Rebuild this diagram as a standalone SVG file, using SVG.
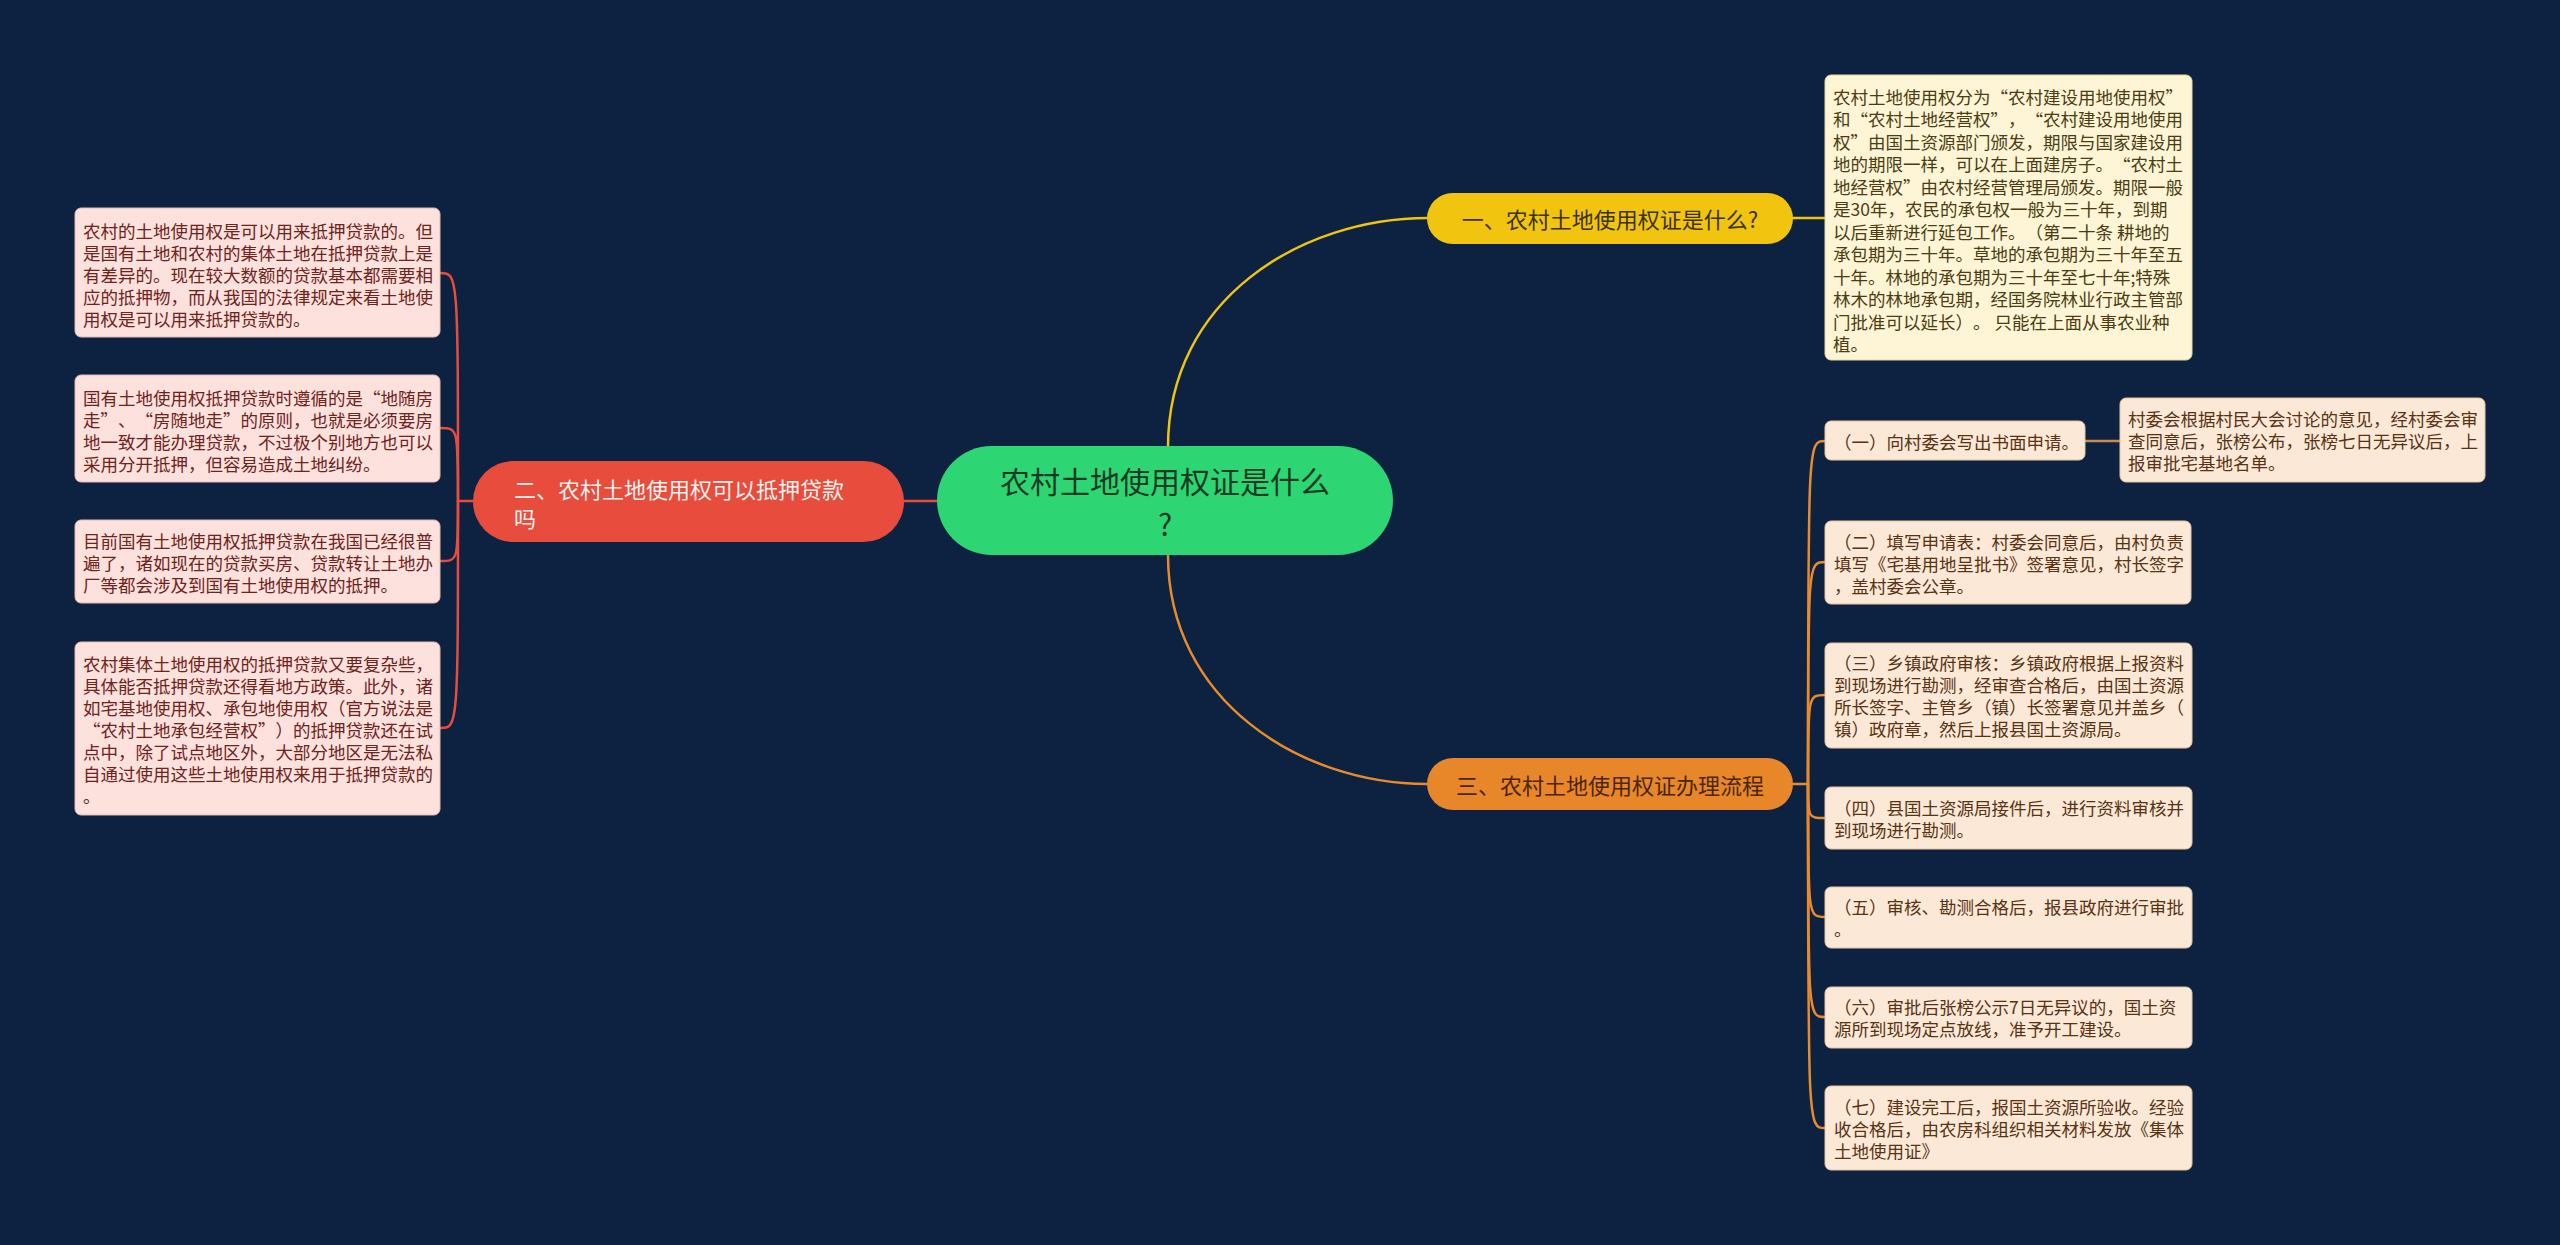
<svg xmlns="http://www.w3.org/2000/svg" width="2560" height="1245" viewBox="0 0 2560 1245">
<style>
text{font-family:"Noto Sans CJK SC","Noto Sans",sans-serif;dominant-baseline:central;text-spacing-trim:space-all}
.q{font-feature-settings:"fwid" 1}
.leaf{font-size:17.5px}
.lp rect{fill:#fce1dd;stroke:#e9b9b2;stroke-width:1}
.lp text{fill:#6e231b}
.lo rect{fill:#fbe8d7;stroke:#e7c39c;stroke-width:1}
.lo text{fill:#573313}
.ly rect{fill:#fdf5d5;stroke:#e8d89a;stroke-width:1}
.ly text{fill:#4b3c12}
.br{font-size:22px}
.c{fill:none;stroke-width:2.5;stroke-linecap:round}
.cy{stroke:#f1c40f}
.cr{stroke:#e74c3c}
.co{stroke:#e88a2e}
</style>
<rect x="0" y="0" width="2560" height="1245" fill="#0c2240"/>

<g id="connectors">
<path class="c cy" d="M1168,447 C1168,300 1300,218 1428,218"/>
<path class="c cy" d="M1793,218 L1825,218"/>
<path class="c co" d="M1168,555 C1168,700 1300,784 1427,784"/>
<path class="c cr" d="M937,501 L903,501"/>
<path class="c cr" d="M473,501 L458,501"/>
<path class="c cr" d="M458,501 C458,273 458,273 440,273"/>
<path class="c cr" d="M458,501 C458,428 458,428 440,428"/>
<path class="c cr" d="M458,501 C458,561 458,561 440,561"/>
<path class="c cr" d="M458,501 C458,728 458,728 440,728"/>
<path class="c co" d="M1793,784 L1808,784"/>
<path class="c co" d="M1808,784 C1808,441 1808,441 1825,441"/>
<path class="c co" d="M1808,784 C1808,562 1808,562 1825,562"/>
<path class="c co" d="M1808,784 C1808,695 1808,695 1825,695"/>
<path class="c co" d="M1808,784 C1808,818 1808,818 1825,818"/>
<path class="c co" d="M1808,784 C1808,917 1808,917 1825,917"/>
<path class="c co" d="M1808,784 C1808,1017 1808,1017 1825,1017"/>
<path class="c co" d="M1808,784 C1808,1128 1808,1128 1825,1128"/>
<path class="c" stroke="#c98a4e" stroke-width="3.5" d="M2085,441 L2120,441"/>
</g>

<g id="root">
<rect x="937" y="446" width="456" height="109" rx="54.5" fill="#2ed573"/>
<text x="1165" y="480" font-size="30" fill="#183a24" text-anchor="middle">农村土地使用权证是什么</text>
<text x="1165" y="523" font-size="30" fill="#183a24" text-anchor="middle">?</text>
</g>

<g id="branch1">
<rect x="1427" y="193" width="366" height="51" rx="25.5" fill="#f1c40f"/>
<text class="br" x="1610" y="218" fill="#3b3205" text-anchor="middle">一、农村土地使用权证是什么?</text>
</g>

<g id="branch2">
<rect x="473" y="461" width="431" height="81" rx="40.5" fill="#e74c3c"/>
<text class="br" x="514" y="488" fill="#fff2ee">二、农村土地使用权可以抵押贷款</text>
<text class="br" x="514" y="517" fill="#fff2ee">吗</text>
</g>

<g id="branch3">
<rect x="1427" y="758" width="366" height="52" rx="26" fill="#e8862a"/>
<text class="br" x="1610" y="784" fill="#4a2508" text-anchor="middle">三、农村土地使用权证办理流程</text>
</g>

<g id="leaf1a" class="ly leaf">
<rect x="1825" y="75" width="367" height="285" rx="6"/>
<text x="1833" y="96">农村土地使用权分为<tspan class="q">“</tspan>农村建设用地使用权<tspan class="q">”</tspan></text>
<text x="1833" y="118.5">和<tspan class="q">“</tspan>农村土地经营权<tspan class="q">”</tspan>，<tspan class="q">“</tspan>农村建设用地使用</text>
<text x="1833" y="141">权<tspan class="q">”</tspan>由国土资源部门颁发，期限与国家建设用</text>
<text x="1833" y="163.5">地的期限一样，可以在上面建房子。<tspan class="q">“</tspan>农村土</text>
<text x="1833" y="186">地经营权<tspan class="q">”</tspan>由农村经营管理局颁发。期限一般</text>
<text x="1833" y="208.5">是30年，农民的承包权一般为三十年，到期</text>
<text x="1833" y="231">以后重新进行延包工作。（第二十条 耕地的</text>
<text x="1833" y="253.5">承包期为三十年。草地的承包期为三十年至五</text>
<text x="1833" y="276">十年。林地的承包期为三十年至七十年;特殊</text>
<text x="1833" y="298.5">林木的林地承包期，经国务院林业行政主管部</text>
<text x="1833" y="321">门批准可以延长）。 只能在上面从事农业种</text>
<text x="1833" y="343.5">植。</text>
</g>

<g id="leaf2a" class="lp leaf">
<rect x="75" y="208" width="365" height="129" rx="6"/>
<text x="83" y="230">农村的土地使用权是可以用来抵押贷款的。但</text>
<text x="83" y="252">是国有土地和农村的集体土地在抵押贷款上是</text>
<text x="83" y="274">有差异的。现在较大数额的贷款基本都需要相</text>
<text x="83" y="296">应的抵押物，而从我国的法律规定来看土地使</text>
<text x="83" y="318">用权是可以用来抵押贷款的。</text>
</g>

<g id="leaf2b" class="lp leaf">
<rect x="75" y="375" width="365" height="107" rx="6"/>
<text x="83" y="397">国有土地使用权抵押贷款时遵循的是<tspan class="q">“</tspan>地随房</text>
<text x="83" y="419">走<tspan class="q">”</tspan>、<tspan class="q">“</tspan>房随地走<tspan class="q">”</tspan>的原则，也就是必须要房</text>
<text x="83" y="441">地一致才能办理贷款，不过极个别地方也可以</text>
<text x="83" y="463">采用分开抵押，但容易造成土地纠纷。</text>
</g>

<g id="leaf2c" class="lp leaf">
<rect x="75" y="520" width="365" height="83" rx="6"/>
<text x="83" y="540">目前国有土地使用权抵押贷款在我国已经很普</text>
<text x="83" y="562">遍了，诸如现在的贷款买房、贷款转让土地办</text>
<text x="83" y="584">厂等都会涉及到国有土地使用权的抵押。</text>
</g>

<g id="leaf2d" class="lp leaf">
<rect x="75" y="642" width="365" height="173" rx="6"/>
<text x="83" y="663">农村集体土地使用权的抵押贷款又要复杂些，</text>
<text x="83" y="685">具体能否抵押贷款还得看地方政策。此外，诸</text>
<text x="83" y="707">如宅基地使用权、承包地使用权（官方说法是</text>
<text x="83" y="729"><tspan class="q">“</tspan>农村土地承包经营权<tspan class="q">”</tspan>）的抵押贷款还在试</text>
<text x="83" y="751">点中，除了试点地区外，大部分地区是无法私</text>
<text x="83" y="773">自通过使用这些土地使用权来用于抵押贷款的</text>
<text x="83" y="795">。</text>
</g>

<g id="leaf3a" class="lo leaf">
<rect x="1825" y="421" width="260" height="39" rx="6"/>
<text x="1834" y="441">（一）向村委会写出书面申请。</text>
</g>

<g id="leaf3a1" class="lo leaf">
<rect x="2120" y="398" width="365" height="84" rx="6"/>
<text x="2128" y="418">村委会根据村民大会讨论的意见，经村委会审</text>
<text x="2128" y="440">查同意后，张榜公布，张榜七日无异议后，上</text>
<text x="2128" y="462">报审批宅基地名单。</text>
</g>

<g id="leaf3b" class="lo leaf">
<rect x="1825" y="521" width="366" height="83" rx="6"/>
<text x="1834" y="541">（二）填写申请表：村委会同意后，由村负责</text>
<text x="1834" y="563">填写《宅基用地呈批书》签署意见，村长签字</text>
<text x="1834" y="585">，盖村委会公章。</text>
</g>

<g id="leaf3c" class="lo leaf">
<rect x="1825" y="643" width="367" height="105" rx="6"/>
<text x="1834" y="662.5">（三）乡镇政府审核：乡镇政府根据上报资料</text>
<text x="1834" y="684.5">到现场进行勘测，经审查合格后，由国土资源</text>
<text x="1834" y="706.5">所长签字、主管乡（镇）长签署意见并盖乡（</text>
<text x="1834" y="728.5">镇）政府章，然后上报县国土资源局。</text>
</g>

<g id="leaf3d" class="lo leaf">
<rect x="1825" y="787" width="367" height="62" rx="6"/>
<text x="1834" y="807">（四）县国土资源局接件后，进行资料审核并</text>
<text x="1834" y="829">到现场进行勘测。</text>
</g>

<g id="leaf3e" class="lo leaf">
<rect x="1825" y="887" width="367" height="61" rx="6"/>
<text x="1834" y="906.5">（五）审核、勘测合格后，报县政府进行审批</text>
<text x="1834" y="928.5">。</text>
</g>

<g id="leaf3f" class="lo leaf">
<rect x="1825" y="987" width="367" height="61" rx="6"/>
<text x="1834" y="1006.5">（六）审批后张榜公示7日无异议的，国土资</text>
<text x="1834" y="1028.5">源所到现场定点放线，准予开工建设。</text>
</g>

<g id="leaf3g" class="lo leaf">
<rect x="1825" y="1086" width="367" height="84" rx="6"/>
<text x="1834" y="1106">（七）建设完工后，报国土资源所验收。经验</text>
<text x="1834" y="1128">收合格后，由农房科组织相关材料发放《集体</text>
<text x="1834" y="1150">土地使用证》</text>
</g>
</svg>
